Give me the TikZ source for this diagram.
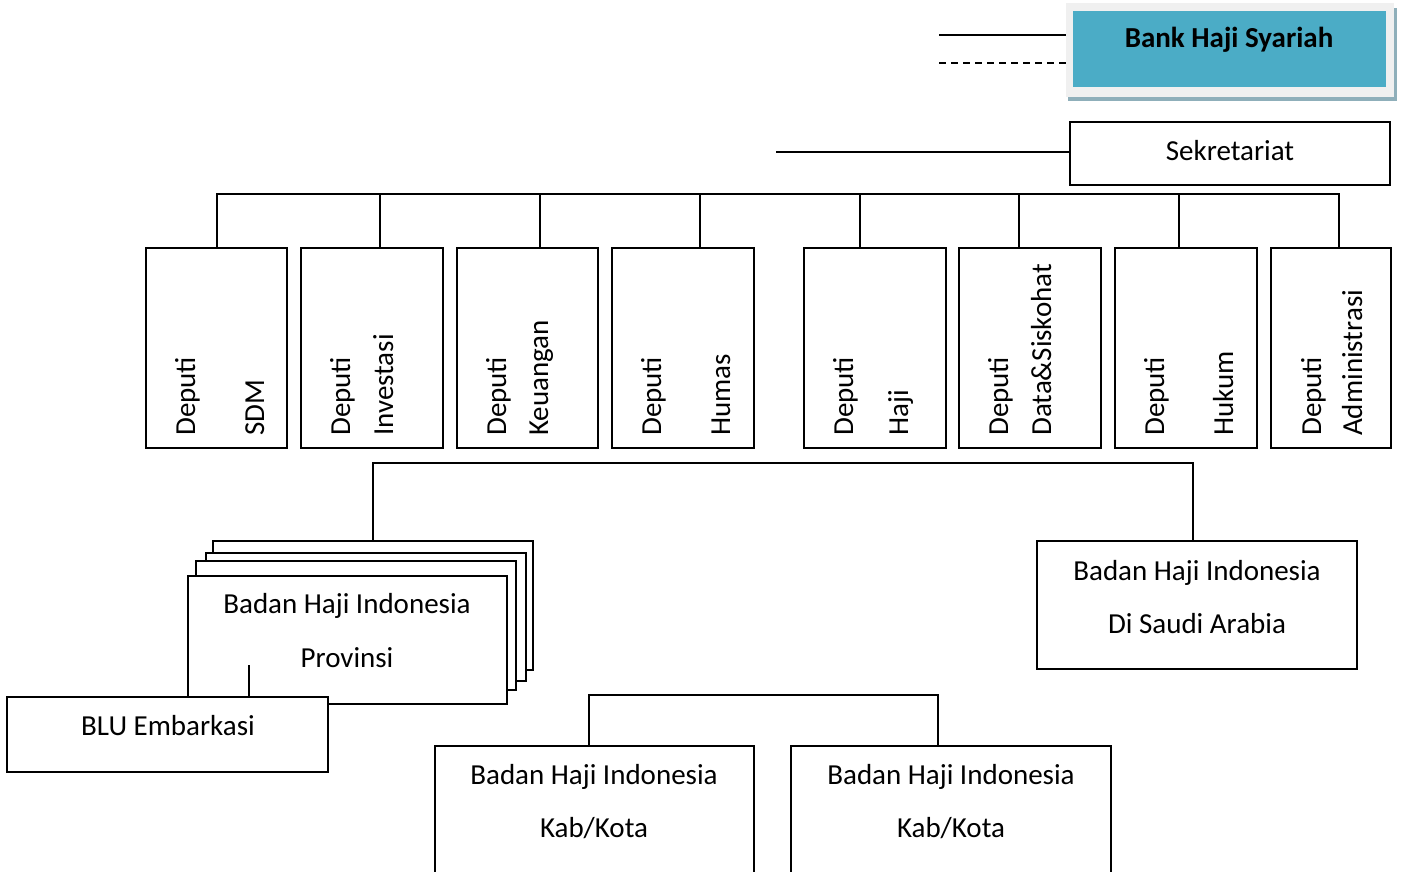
\documentclass[tikz,border=0pt]{standalone}
\usepackage{fontspec}
\setmainfont{Carlito}
\definecolor{bankblue}{HTML}{4BACC6}
\definecolor{bankframe}{HTML}{F0F0F0}
\definecolor{bankshadow}{HTML}{8FAFBA}
\begin{document}
\begin{tikzpicture}[x=1pt,y=-1pt,
  ln/.style={line width=1.8pt},
  box/.style={draw=black, line width=1.8pt, fill=white, anchor=north west, inner sep=0pt, outer sep=0pt},
  plain/.style={anchor=north west, inner sep=0pt, outer sep=0pt},
  txt/.style={anchor=base, inner sep=0pt, font=\fontsize{29}{34}\selectfont},
  vtxt/.style={rotate=90, anchor=base west, inner sep=0pt, font=\fontsize{29}{34}\selectfont}]
\useasboundingbox (0,0) rectangle (1413,871);
\clip (0,0) rectangle (1413,871);

% --- top: Bank Haji Syariah and lines ---
\coordinate (bs) at (939,35);
\coordinate (bd) at (939,63);
\node[plain, fill=bankshadow, minimum width=329pt, minimum height=93pt] (bankshadow) at (1068,8) {};
\node[plain, fill=bankframe, minimum width=328pt, minimum height=94pt] (bankframe) at (1066,3) {};
\node[plain, fill=bankblue, minimum width=313pt, minimum height=76pt] (bank) at (1073,11) {};
\draw[ln] (bs) -- (bs -| bankframe.west);
\draw[ln, dash pattern=on 7pt off 5pt] (bd) -- (bd -| bankframe.west);
\node[txt, font=\fontsize{29}{34}\selectfont\bfseries] (banktxt) at (1229,47) {Bank Haji Syariah};

% --- Sekretariat ---
\node[box, minimum width=320pt, minimum height=63pt] (sek) at (1070,122) {};
\node[txt] (sektxt) at (1230,160) {Sekretariat};
\coordinate (sekL) at (776,152);
\draw[ln] (sekL) -- (sekL -| sek.west);

% --- Deputi boxes ---
\node[box, minimum width=141pt, minimum height=200pt] (d1) at (146,248) {};
\node[box, minimum width=142pt, minimum height=200pt] (d2) at (301,248) {};
\node[box, minimum width=141pt, minimum height=200pt] (d3) at (457,248) {};
\node[box, minimum width=142pt, minimum height=200pt] (d4) at (612,248) {};
\node[box, minimum width=142pt, minimum height=200pt] (d5) at (804,248) {};
\node[box, minimum width=142pt, minimum height=200pt] (d6) at (959,248) {};
\node[box, minimum width=142pt, minimum height=200pt] (d7) at (1115,248) {};
\node[box, minimum width=120pt, minimum height=200pt] (d8) at (1271,248) {};

\node[vtxt] (d1a) at (195,436) {Deputi};
\node[vtxt] (d1b) at (264,436) {SDM};
\node[vtxt] (d2a) at (350,436) {Deputi};
\node[vtxt] (d2b) at (393,436) {Investasi};
\node[vtxt] (d3a) at (506,436) {Deputi};
\node[vtxt] (d3b) at (548,436) {Keuangan};
\node[vtxt] (d4a) at (661,436) {Deputi};
\node[vtxt] (d4b) at (730,436) {Humas};
\node[vtxt] (d5a) at (853,436) {Deputi};
\node[vtxt] (d5b) at (908,436) {Haji};
\node[vtxt] (d6a) at (1008,436) {Deputi};
\node[vtxt] (d6b) at (1051,436) {Data\&Siskohat};
\node[vtxt] (d7a) at (1164,436) {Deputi};
\node[vtxt] (d7b) at (1233,436) {Hukum};
\node[vtxt] (d8a) at (1321,436) {Deputi};
\node[vtxt] (d8b) at (1362,436) {Administrasi};

% bus
\coordinate (b1) at (217,194);
\coordinate (b2) at (380,194);
\coordinate (b3) at (540,194);
\coordinate (b4) at (700,194);
\coordinate (b5) at (860,194);
\coordinate (b6) at (1019,194);
\coordinate (b7) at (1179,194);
\coordinate (b8) at (1339,194);
\draw[ln] (b1 |- d1.north) -- (b1) -- (b8) -- (b8 |- d8.north);
\draw[ln] (b2) -- (b2 |- d2.north);
\draw[ln] (b3) -- (b3 |- d3.north);
\draw[ln] (b4) -- (b4 |- d4.north);
\draw[ln] (b5) -- (b5 |- d5.north);
\draw[ln] (b6) -- (b6 |- d6.north);
\draw[ln] (b7) -- (b7 |- d7.north);

% --- Provinsi stack ---
\node[box, minimum width=320pt, minimum height=129pt] (pv4) at (213,541) {};
\node[box, minimum width=320pt, minimum height=128pt] (pv3) at (206,553) {};
\node[box, minimum width=320pt, minimum height=129pt] (pv2) at (196,561) {};
\node[box, minimum width=319pt, minimum height=128pt] (pv1) at (188,576) {};
\node[txt] (pvtxt1) at (347,613) {Badan Haji Indonesia};
\node[txt] (pvtxt2) at (347,667) {Provinsi};

% --- Saudi ---
\node[box, minimum width=320pt, minimum height=128pt] (saudi) at (1037,541) {};
\node[txt] (satxt1) at (1197,580) {Badan Haji Indonesia};
\node[txt] (satxt2) at (1197,633) {Di Saudi Arabia};

\coordinate (h1) at (373,463);
\coordinate (h2) at (1193,463);
\draw[ln] (h1 |- pv4.north) -- (h1) -- (h2) -- (h2 |- saudi.north);

% --- BLU ---
\node[box, minimum width=321pt, minimum height=75pt] (blu) at (7,697) {};
\node[txt] (blutxt) at (168,735) {BLU Embarkasi};
\coordinate (bl) at (249,665);
\draw[ln] (bl) -- (bl |- blu.north);

% --- Kab/Kota ---
\node[box, minimum width=319pt, minimum height=160pt] (kab1) at (435,746) {};
\node[box, minimum width=320pt, minimum height=160pt] (kab2) at (791,746) {};
\node[txt] (k1txt1) at (594,784) {Badan Haji Indonesia};
\node[txt] (k1txt2) at (594,837) {Kab/Kota};
\node[txt] (k2txt1) at (951,784) {Badan Haji Indonesia};
\node[txt] (k2txt2) at (951,837) {Kab/Kota};
\coordinate (k1) at (589,695);
\coordinate (k2) at (938,695);
\draw[ln] (k1 |- kab1.north) -- (k1) -- (k2) -- (k2 |- kab2.north);
\end{tikzpicture}
\end{document}
